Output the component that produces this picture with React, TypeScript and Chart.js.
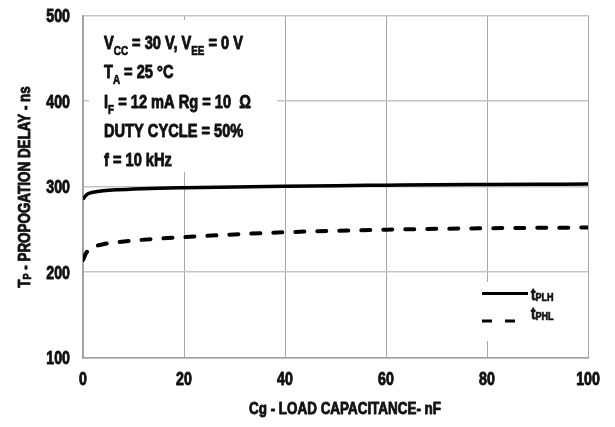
import React, { useEffect, useRef } from "react";
import { Chart, registerables } from "chart.js";

Chart.register(...registerables);

const FONT = "'Liberation Sans', Arial, sans-serif";
const SX = 0.79; // horizontal squeeze to mimic a condensed face
const INK = "#111111";

// Load capacitance (nF)
const capX = [0, 0.5, 1, 2, 4, 7, 10, 15, 20, 30, 40, 50, 60, 70, 80, 90, 100];
// Propagation delay (ns)
const tPLH = [285, 289, 291.5, 293.2, 295, 296.3, 297, 297.9, 298.5, 299.5, 300.3, 301, 301.5, 302, 302.3, 302.6, 302.9];
const tPHL = [214, 221, 225, 229, 232.5, 235, 236.8, 239, 240.8, 244, 246.5, 248.2, 249.5, 250.5, 251.2, 251.7, 252];

const xTicks = [0, 20, 40, 60, 80, 100];
const yTicks = [100, 200, 300, 400, 500];

type Part = { t: string; sub?: boolean };

const condLines: Part[][] = [
  [{ t: "V" }, { t: "CC", sub: true }, { t: " = 30 V, V" }, { t: "EE", sub: true }, { t: " = 0 V" }],
  [{ t: "T" }, { t: "A", sub: true }, { t: " = 25 °C" }],
  [{ t: "I" }, { t: "F", sub: true }, { t: " = 12 mA Rg = 10  Ω" }],
  [{ t: "DUTY CYCLE = 50%" }],
  [{ t: "f = 10 kHz" }],
];

function richWidth(ctx: CanvasRenderingContext2D, parts: Part[], main: number, sub: number) {
  let w = 0;
  for (const p of parts) {
    ctx.font = `bold ${p.sub ? sub : main}px ${FONT}`;
    w += ctx.measureText(p.t).width;
  }
  return w * SX;
}

// x is left edge unless align = center/right
function drawRich(
  ctx: CanvasRenderingContext2D,
  x: number,
  y: number,
  parts: Part[],
  main: number,
  sub: number,
  subDy: number,
  align: "left" | "center" | "right" = "left"
) {
  const w = richWidth(ctx, parts, main, sub);
  let start = x;
  if (align === "center") start = x - w / 2;
  if (align === "right") start = x - w;
  ctx.save();
  ctx.translate(start, y);
  ctx.scale(SX, 1);
  ctx.textBaseline = "alphabetic";
  ctx.textAlign = "left";
  ctx.fillStyle = INK;
  ctx.strokeStyle = INK;
  ctx.lineJoin = "round";
  let cx = 0;
  for (const p of parts) {
    ctx.font = `bold ${p.sub ? sub : main}px ${FONT}`;
    ctx.lineWidth = p.sub ? 0.7 : 0.9;
    const yy = p.sub ? subDy : 0;
    ctx.fillText(p.t, cx, yy);
    ctx.strokeText(p.t, cx, yy);
    cx += ctx.measureText(p.t).width;
  }
  ctx.restore();
}

const annotPlugin = {
  id: "annot",
  beforeDatasetsDraw(chart: any) {
    const ctx: CanvasRenderingContext2D = chart.ctx;
    ctx.save();
    ctx.fillStyle = "#ffffff";
    ctx.fillRect(89, 20, 188, 152);
    ctx.fillRect(470, 282, 115, 59);
    ctx.restore();
  },
  afterDraw(chart: any) {
    const ctx: CanvasRenderingContext2D = chart.ctx;
    const xs = chart.scales.x;
    const ys = chart.scales.y;
    ctx.save();

    // tick labels
    xTicks.forEach((v) => {
      drawRich(ctx, xs.getPixelForValue(v), 385, [{ t: String(v) }], 18, 12, 0, "center");
    });
    yTicks.forEach((v) => {
      drawRich(ctx, 70, ys.getPixelForValue(v) + 6.5, [{ t: String(v) }], 18, 12, 0, "right");
    });

    // conditions text
    const baselines = [48.5, 78, 107.5, 136.5, 165.5];
    condLines.forEach((ln, i) => drawRich(ctx, 104, baselines[i], ln, 18.5, 12.5, 6));

    // legend
    ctx.strokeStyle = "#000000";
    ctx.lineWidth = 3;
    ctx.setLineDash([]);
    ctx.beginPath();
    ctx.moveTo(482, 293.5);
    ctx.lineTo(528, 293.5);
    ctx.stroke();
    ctx.setLineDash([10, 13]);
    ctx.beginPath();
    ctx.moveTo(482, 321);
    ctx.lineTo(515, 321);
    ctx.stroke();
    ctx.setLineDash([]);
    drawRich(ctx, 531, 299.5, [{ t: "t" }, { t: "PLH", sub: true }], 17, 11.5, 1);
    drawRich(ctx, 531, 318.5, [{ t: "t" }, { t: "PHL", sub: true }], 17, 11.5, 1);

    // x axis title
    drawRich(ctx, 345, 414, [{ t: "Cg - LOAD CAPACITANCE- nF" }], 17, 11, 0, "center");

    // y axis title
    const yParts: Part[] = [{ t: "T" }, { t: "P", sub: true }, { t: " - PROPOGATION DELAY - ns" }];
    ctx.translate(29.5, 187);
    ctx.rotate(-Math.PI / 2);
    drawRich(ctx, 0, 0, yParts, 17, 11.5, 1, "center");
    ctx.restore();
  },
};

export default function App() {
  const ref = useRef<HTMLCanvasElement | null>(null);

  useEffect(() => {
    document.body.style.margin = "0";
    if (!ref.current) return;
    const chart = new Chart(ref.current, {
      type: "line",
      data: {
        datasets: [
          {
            label: "tPLH",
            data: capX.map((x, i) => ({ x, y: tPLH[i] })),
            borderColor: "#000000",
            borderWidth: 3.5,
            pointRadius: 0,
            cubicInterpolationMode: "monotone",
            fill: false,
          },
          {
            label: "tPHL",
            data: capX.map((x, i) => ({ x, y: tPHL[i] })),
            borderColor: "#000000",
            borderWidth: 4,
            borderDash: [9, 13],
            borderCapStyle: "round",
            pointRadius: 0,
            cubicInterpolationMode: "monotone",
            fill: false,
          },
        ],
      },
      options: {
        animation: false,
        responsive: true,
        maintainAspectRatio: false,
        layout: { padding: { left: 0, right: 27, top: 15.5, bottom: 0 } },
        plugins: {
          legend: { display: false },
          tooltip: { enabled: false },
        },
        scales: {
          x: {
            type: "linear",
            min: 0,
            max: 100,
            afterFit: (s: any) => {
              s.height = 69.5;
            },
            afterBuildTicks: (s: any) => {
              s.ticks = xTicks.map((v) => ({ value: v }));
            },
            grid: { color: "#a8a8a8", lineWidth: 1, drawTicks: false },
            border: { color: "#a0a0a0", width: 1.5 },
            ticks: { display: false },
          },
          y: {
            type: "linear",
            min: 100,
            max: 500,
            afterFit: (s: any) => {
              s.width = 83;
            },
            afterBuildTicks: (s: any) => {
              s.ticks = yTicks.map((v) => ({ value: v }));
            },
            grid: { color: "#c4c4c4", lineWidth: 1.5, drawTicks: false },
            border: { color: "#a0a0a0", width: 1.5 },
            ticks: { display: false },
          },
        },
      },
      plugins: [annotPlugin],
    } as any);
    return () => chart.destroy();
  }, []);

  return (
    <div style={{ width: 615, height: 427, position: "relative" }}>
      <canvas ref={ref} />
    </div>
  );
}
